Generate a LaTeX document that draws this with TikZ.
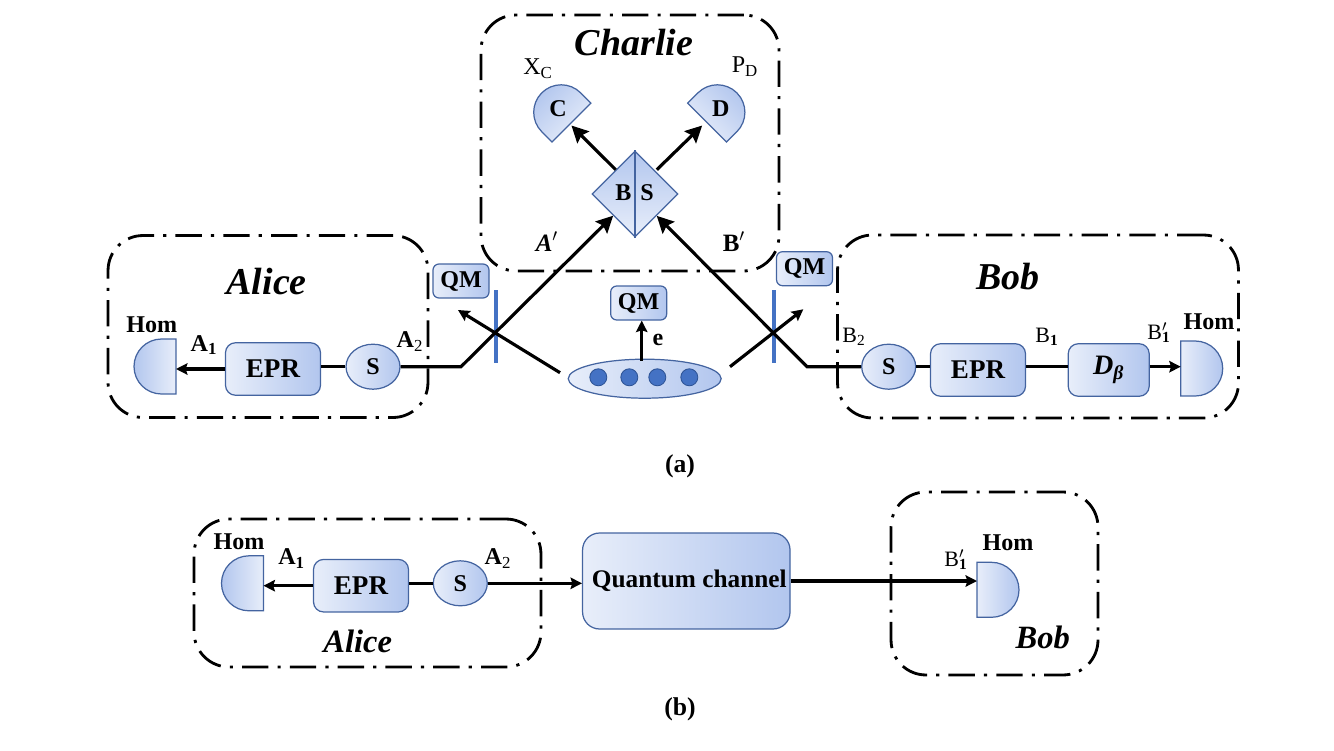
\documentclass[tikz,border=0pt]{standalone}
\usepackage{fontspec}
\setmainfont{Liberation Serif}
\usetikzlibrary{shapes.geometric, arrows.meta, positioning, calc}

\definecolor{edgeblue}{RGB}{68,100,160}
\definecolor{darkfill}{RGB}{178,198,238}
\definecolor{lightfill}{RGB}{232,238,250}
\definecolor{barblue}{RGB}{68,114,196}
\definecolor{dotedge}{RGB}{47,85,151}

\newcommand{\fs}[1]{\fontsize{#1}{#1}\selectfont}
\newcommand{\subprime}[1]{\rlap{\textsuperscript{$\prime$}}\textsubscript{\textbf{#1}}}

\begin{document}
\begin{tikzpicture}[
    x=0.02cm, y=-0.02cm,
    party/.style={
        rectangle,
        draw=black,
        line width=1.6pt,
        dash pattern=on 15pt off 5.2pt on 1.8pt off 5.2pt,
        rounded corners=0.7cm,
        inner sep=0pt
    },
    device/.style={
        rectangle,
        draw=edgeblue,
        line width=0.7pt,
        left color=lightfill,
        right color=darkfill,
        rounded corners=0.2cm,
        inner sep=0pt,
        font=\fs{13.7}\bfseries
    },
    epr/.style={device, minimum width=1.9cm, minimum height=1.05cm, font=\fs{15.4}\bfseries},
    memory/.style={device, rounded corners=0.12cm, minimum width=1.12cm, minimum height=0.68cm},
    squeezer/.style={device, ellipse, minimum width=1.08cm, minimum height=0.9cm},
    pics/homdet/.style={code={
        \path [draw=edgeblue, line width=0.7pt, top color=darkfill, bottom color=lightfill, shading angle=#1]
            (0.42cm,0.55cm) -- (0.13cm,0.55cm) arc[start angle=90, end angle=270, radius=0.55cm]
            -- (0.42cm,-0.55cm) -- cycle;
        \coordinate (-flat) at (0.42cm,0cm);
    }},
    bar/.style={rectangle, fill=barblue, minimum width=0.08cm, minimum height=1.46cm, inner sep=0pt},
    qubit/.style={circle, draw=dotedge, line width=0.5pt, fill=barblue, minimum size=0.34cm, inner sep=0pt},
    title/.style={font=\fs{21.6}\bfseries\itshape, inner sep=0pt},
    titlesmall/.style={font=\fs{18.5}\bfseries\itshape, inner sep=0pt},
    lbl/.style={font=\fs{13.7}\bfseries, inner sep=0pt},
    port/.style={font=\fs{12.5}, inner sep=0pt},
    line/.style={draw, line width=1.8pt, -{Stealth[length=9.5pt, width=9.5pt, inset=1.5pt]}},
    short/.style={draw, line width=1.8pt, -{Stealth[length=6.5pt, width=6.5pt, inset=1pt]}},
    wire/.style={draw, line width=1.8pt}
]
    \useasboundingbox (0,0) rectangle (1334,750);

    % --- Boxes of the three parties ---
    \node [party, minimum width=5.96cm, minimum height=5.12cm] (charlieBox) at (630,143) {};
    \node [party, minimum width=6.4cm, minimum height=3.64cm] (aliceBox) at (268,326.5) {};
    \node [party, minimum width=8.02cm, minimum height=3.66cm] (bobBox) at (1038,326.5) {};
    \node [party, minimum width=6.94cm, minimum height=2.96cm] (aliceBoxB) at (367.5,593) {};
    \node [party, minimum width=4.14cm, minimum height=3.66cm] (bobBoxB) at (994.5,583.5) {};

    \node [title] (charlie) at (634,43) {Charlie};
    \node [title] (alice) at (266.7,282) {Alice};
    \node [title] (bob) at (1008,277) {Bob};
    \node [titlesmall] (aliceB) at (357.7,641) {Alice};
    \node [titlesmall] (bobB) at (1042.7,637) {Bob};

    % --- Charlie: beam splitter and the two detectors ---
    \node [diamond, aspect=1, draw=edgeblue, line width=0.7pt, top color=darkfill, bottom color=lightfill,
        minimum width=1.72cm, minimum height=1.72cm, inner sep=0pt] (bs) at (635,194) {};
    \draw [edgeblue, line width=0.9pt] (bs.north) -- (bs.south);
    \node [lbl] (bsB) at (623.3,193) {B};
    \node [lbl] (bsS) at (647,193) {S};

    \pic [rotate=-45] (detC) at (556.6,107.7) {homdet=45};
    \pic [rotate=-135] (detD) at (722,107.7) {homdet=-45};
    \node [lbl] (detCtext) at (558,109) {C};
    \node [lbl] (detDtext) at (720.7,109) {D};
    \node [port, font=\fs{13.7}] (xc) at (538,69) {X\textsubscript{C}};
    \node [port, font=\fs{13.7}] (pd) at (745,67) {P\textsubscript{D}};

    % --- Source in the middle ---
    \node [ellipse, draw=edgeblue, line width=0.7pt, left color=lightfill, right color=darkfill,
        minimum width=3.06cm, minimum height=0.78cm, inner sep=0pt] (source) at (644.7,378.7) {};
    \foreach \x [count=\i] in {598.3, 629.3, 657.3, 689.3} {
        \node [qubit] (q\i) at (\x,377.3) {};
    }
    \node [memory] (qmMid) at (638.7,303) {QM};
    \node [memory] (qmLeft) at (461,281) {QM};
    \node [memory] (qmRight) at (804.5,268.7) {QM};
    \node [bar] (barLeft) at (495.7,326.5) {};
    \node [bar] (barRight) at (774,326.5) {};

    % --- Alice, upper row ---
    \pic (homA) at (155,366.5) {homdet=90};
    \node [epr] (eprA) at (273,369) {EPR};
    \node [squeezer] (sA) at (373,366.7) {S};
    \node [lbl] (homAtext) at (151.7,325) {Hom};
    \node [lbl] (a1) at (204,345) {A\textsubscript{1}};
    \node [lbl] (a2) at (410,341.7) {A\textsubscript{\mdseries 2}};

    % --- Bob, upper row ---
    \node [squeezer] (sB) at (888.7,366.7) {S};
    \node [epr] (eprB) at (978,370) {EPR};
    \node [epr, minimum width=1.62cm, font=\fs{16}\bfseries\itshape] (dBeta) at (1108.7,370) {D\textsubscript{β}};
    \pic [rotate=180] (homB) at (1201.7,368.5) {homdet=-90};
    \node [lbl] (homBtext) at (1209,322) {Hom};
    \node [port] (b2) at (854,337) {B\textsubscript{2}};
    \node [port] (b1) at (1047,337) {B\textsubscript{\textbf{1}}};
    \node [port] (b1p) at (1159,333) {B\subprime{1}};

    % --- Lower row ---
    \pic (homA2) at (242.5,583.3) {homdet=90};
    \node [epr] (eprA2) at (361,585.7) {EPR};
    \node [squeezer] (sA2) at (460.3,583.3) {S};
    \node [device, minimum width=4.15cm, minimum height=1.92cm, rounded corners=0.34cm, font=\fs{14.4}\bfseries] (channel) at (686.3,581) {\hspace{0.12cm}\raisebox{-1pt}{Quantum channel}};
    \pic [rotate=180] (homB2) at (998,589.8) {homdet=-90};
    \node [lbl] (homA2text) at (239,541.7) {Hom};
    \node [lbl] (homB2text) at (1008,542.7) {Hom};
    \node [lbl] (a1b) at (291.7,558.3) {A\textsubscript{1}};
    \node [lbl] (a2b) at (498,558.3) {A\textsubscript{\mdseries 2}};
    \node [port] (b1pb) at (956,560) {B\subprime{1}};

    \node [lbl, font=\fs{14.6}\bfseries] (capA) at (680,466) {(a)};
    \node [lbl, font=\fs{14.6}\bfseries] (capB) at (680,709) {(b)};

    % --- Free ends and corners of the paths ---
    \coordinate (turnA) at (461,366.7);
    \coordinate (turnB) at (807,366.7);
    \coordinate (srcLeft) at (560,372.7);
    \coordinate (srcRight) at (730,366.7);
    \coordinate (tipLeft) at (458,310);
    \coordinate (tipRight) at (803.3,309.3);

    % --- Connections ---
    \draw [line] ($(bs.north west)+(2.5,-2.5)$) -- ($(detC-flat)+(0,3)$);
    \draw [line] ($(bs.north east)+(0,-2.5)$) -- ($(detD-flat)+(-5,3)$);
    \draw [line] (sA.east) -- (turnA) -- (bs);
    \draw [line] (sB.west) -- (turnB) -- (bs);
    \draw [short] (srcLeft) -- (tipLeft);
    \draw [short] (srcRight) -- (tipRight);
    \draw [short] ($(qmMid.south)+(3,40)$) -- ($(qmMid.south)+(3,0)$);

    \draw [short] (eprA.west) -- (eprA.west -| homA-flat);
    \draw [wire] (sA.west) -- (sA.west -| eprA.east);

    \draw [wire] (sB.east) -- (sB.east -| eprB.west);
    \draw [wire] (sB.east -| eprB.east) -- (sB.east -| dBeta.west);
    \draw [short] (sB.east -| dBeta.east) -- (sB.east -| homB-flat);

    \draw [short] (eprA2.west) -- (eprA2.west -| homA2-flat);
    \draw [wire] (sA2.west) -- (sA2.west -| eprA2.east);
    \draw [short] (sA2.east) -- (sA2.east -| channel.west);
    \draw [short] (channel.east) -- (channel.east -| homB2-flat);

    \node [lbl, font=\fs{14.2}\bfseries\itshape] (aPrime) at (547,241.7) {A$'$};
    \node [lbl, font=\fs{14.2}\bfseries] (bPrime) at (734,241.7) {B$'$};
    \node [lbl] (eLabel) at (658,340) {e};

\end{tikzpicture}
\end{document}
